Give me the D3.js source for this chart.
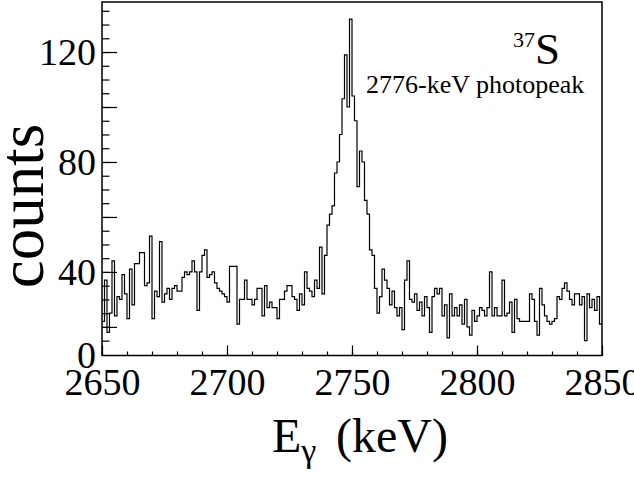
<!DOCTYPE html>
<html>
<head>
<meta charset="utf-8">
<title>37S gamma spectrum</title>
<script src="https://d3js.org/d3.v7.min.js"></script>
<style>
body { margin: 0; background: #fff; }
svg { display: block; }
svg text { font-family: "Liberation Serif", "DejaVu Serif", serif; fill: #000; }
.frame { fill: none; stroke: #000; stroke-width: 1.5px; }
.hist { fill: none; stroke: #000; stroke-width: 1.2px; }
.axis path.domain { display: none; }
.axis line { stroke: #000; stroke-width: 1.2px; }
</style>
</head>
<body>
<svg id="chart" width="634" height="481"></svg>
<script>
// histogram: 1 keV bins starting at 2650 keV
var binStart = 2650, binWidth = 1;
var counts = [
  22, 37, 18, 25, 44, 24, 31, 30, 39, 32, 23, 41, 28, 43, 43, 47, 47, 35, 36, 53,
  23, 33, 31, 51, 29, 32, 34, 30, 34, 35, 33, 33, 38, 40, 39, 40, 44, 40, 26, 40,
  46, 48, 38, 39, 40, 36, 34, 33, 32, 31, 29, 42, 42, 42, 21, 30, 30, 37, 30, 30,
  28, 30, 34, 34, 24, 35, 27, 29, 27, 27, 23, 30, 30, 33, 35, 35, 31, 30, 26, 32,
  28, 40, 34, 33, 31, 37, 34, 49, 32, 46, 57, 61, 64, 76, 80, 90, 103, 119, 100, 132,
  104, 95, 71, 84, 80, 66, 61, 48, 46, 34, 25, 31, 41, 37, 34, 28, 33, 27, 24, 27,
  19, 37, 44, 30, 29, 32, 26, 29, 24, 31, 27, 18, 31, 34, 32, 34, 24, 28, 16, 32,
  24, 27, 24, 28, 21, 30, 20, 17, 26, 22, 24, 27, 26, 24, 27, 40, 24, 27, 24, 24,
  37, 24, 25, 29, 18, 30, 23, 22, 22, 22, 22, 32, 30, 22, 17, 34, 28, 24, 22, 21,
  22, 23, 31, 30, 34, 36, 33, 30, 28, 32, 32, 28, 31, 15, 32, 27, 30, 26, 31, 21
];
var xTickLabels = [2650, 2700, 2750, 2800, 2850];
var yTickLabels = ["0", "40", "80", "120"];
var yTickValues = [9.6, 40, 80, 120];

var svg = d3.select("#chart");
var frameL = 102, frameR = 602, frameT = 2, frameB = 355.5;
var serif = '"Liberation Serif", "DejaVu Serif", serif';

var x = d3.scaleLinear().domain([2650, 2850]).range([frameL, frameR]);
var y = d3.scaleLinear().domain([9.6, 138.2]).range([frameB, frameT]);

svg.append("rect").attr("width", 634).attr("height", 481).attr("fill", "#fff");

// histogram outline
var pts = counts.map(function (c, i) { return [binStart + i * binWidth, c]; });
pts.push([binStart + counts.length * binWidth, counts[counts.length - 1]]);
var line = d3.line()
  .x(function (d) { return x(d[0]); })
  .y(function (d) { return y(d[1]); })
  .curve(d3.curveStepAfter);
svg.append("path").attr("class", "hist").attr("d", line(pts));

// x axis: minor ticks every 10 keV, major every 50 keV
svg.append("g").attr("class", "axis")
  .attr("transform", "translate(0," + frameB + ")")
  .call(d3.axisBottom(x).tickValues(d3.range(2650, 2851, 10)).tickSize(-4).tickFormat(""));
var xa = svg.append("g").attr("class", "axis")
  .attr("transform", "translate(0," + frameB + ")")
  .call(d3.axisBottom(x).tickValues(xTickLabels).tickSize(-10).tickPadding(13).tickFormat(d3.format("d")));
xa.attr("font-family", null);
xa.selectAll("text").attr("font-size", 38).style("font-family", serif);

// y axis: short ticks every 5, long every 20, labels every 40
svg.append("g").attr("class", "axis")
  .attr("transform", "translate(" + frameL + ",0)")
  .call(d3.axisLeft(y).tickValues(d3.range(15, 138, 5)).tickSize(-7.5).tickFormat(""));
svg.append("g").attr("class", "axis")
  .attr("transform", "translate(" + frameL + ",0)")
  .call(d3.axisLeft(y).tickValues([20, 60, 100]).tickSize(-15).tickFormat(""));
var ya = svg.append("g").attr("class", "axis")
  .attr("transform", "translate(" + frameL + ",0)")
  .call(d3.axisLeft(y).tickValues(yTickValues).tickSize(-15).tickPadding(6)
    .tickFormat(function (d, i) { return yTickLabels[i]; }));
ya.attr("font-family", null);
ya.selectAll("text").attr("font-size", 38).style("font-family", serif);
ya.selectAll(".tick").filter(function (d, i) { return i === 0; }).select("line").remove();

// frame
svg.append("rect").attr("class", "frame")
  .attr("x", frameL).attr("y", frameT).attr("width", frameR - frameL).attr("height", frameB - frameT);

// axis titles
svg.append("text")
  .attr("transform", "translate(43,206) rotate(-90)")
  .attr("text-anchor", "middle")
  .attr("font-size", 63)
  .text("counts");

var xt = svg.append("text").attr("x", 272).attr("y", 452).attr("font-size", 48);
xt.append("tspan").text("E");
xt.append("tspan").attr("font-size", 34).attr("dy", 10).text("\u03b3");
xt.append("tspan").attr("x", 336).attr("dy", -10).text("(keV)");

// annotations
var iso = svg.append("text").attr("x", 513).attr("y", 64).attr("font-size", 45);
iso.append("tspan").attr("font-size", 22).attr("dy", -17).text("37");
iso.append("tspan").attr("dy", 17).text("S");

svg.append("text").attr("x", 366).attr("y", 93).attr("font-size", 26)
  .text("2776-keV photopeak");
</script>
</body>
</html>
